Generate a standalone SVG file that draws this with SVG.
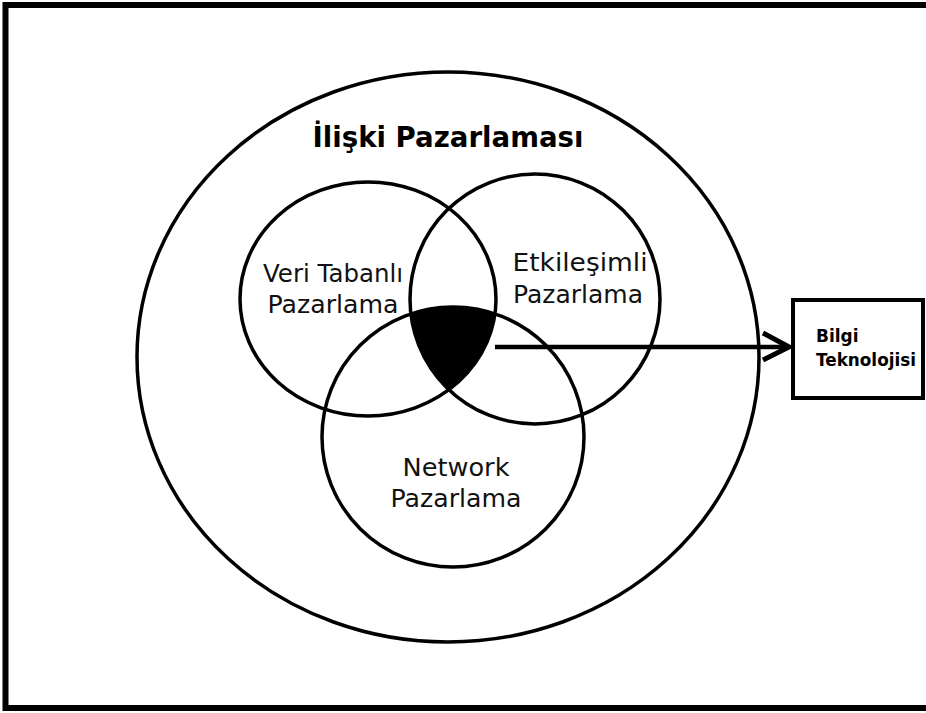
<svg xmlns="http://www.w3.org/2000/svg" width="926" height="713" viewBox="0 0 926 713">
<style>
.c{fill:none;stroke:#000;stroke-width:3.5}
.t{font-family:"DejaVu Sans","Liberation Sans",sans-serif;font-size:24px;fill:#111;text-anchor:middle}
.b{font-family:"DejaVu Sans","Liberation Sans",sans-serif;font-weight:bold;fill:#000}
</style>
<defs>
<clipPath id="cpNet"><ellipse cx="453" cy="437" rx="131" ry="130"/></clipPath>
<clipPath id="cpRight"><ellipse cx="535" cy="299" rx="125" ry="125"/></clipPath>
</defs>
<rect x="0" y="0" width="926" height="713" fill="#fff"/>
<rect id="frame" x="5.5" y="5" width="940" height="703" fill="none" stroke="#000" stroke-width="6"/>
<g id="outer">
<ellipse class="c" cx="448" cy="357" rx="311" ry="285"/>
<text class="b" x="448" y="147" font-size="29" text-anchor="middle" textLength="271" lengthAdjust="spacingAndGlyphs">İlişki Pazarlaması</text>
</g>
<g id="veri">
<ellipse class="c" cx="368" cy="299" rx="128" ry="117"/>
<text class="t" x="333" y="282" textLength="140" lengthAdjust="spacingAndGlyphs">Veri Tabanlı</text>
<text class="t" x="333" y="313" textLength="131" lengthAdjust="spacingAndGlyphs">Pazarlama</text>
</g>
<g id="etkilesimli">
<ellipse class="c" cx="535" cy="299" rx="125" ry="125"/>
<text class="t" x="580" y="271" textLength="135" lengthAdjust="spacingAndGlyphs">Etkileşimli</text>
<text class="t" x="578" y="303" textLength="130" lengthAdjust="spacingAndGlyphs">Pazarlama</text>
</g>
<g id="network">
<ellipse class="c" cx="453" cy="437" rx="131" ry="130"/>
<text class="t" x="456" y="476" textLength="107" lengthAdjust="spacingAndGlyphs">Network</text>
<text class="t" x="456" y="507" textLength="131" lengthAdjust="spacingAndGlyphs">Pazarlama</text>
</g>
<g id="kesisim" clip-path="url(#cpNet)">
<ellipse cx="368" cy="299" rx="128" ry="117" fill="#000" clip-path="url(#cpRight)"/>
</g>
<g id="bilgi">
<rect x="793" y="300" width="130" height="98" fill="#fff" stroke="#000" stroke-width="4"/>
<text class="b" x="816" y="342" font-size="17">Bilgi</text>
<text class="b" x="816" y="366" font-size="17" textLength="100" lengthAdjust="spacingAndGlyphs">Teknolojisi</text>
</g>
<g id="connectors">
<line x1="495" y1="347" x2="788" y2="347" stroke="#000" stroke-width="4.5"/>
<polyline points="763,333 789,347 763,360" fill="none" stroke="#000" stroke-width="5" stroke-linejoin="miter"/>
</g>
</svg>
